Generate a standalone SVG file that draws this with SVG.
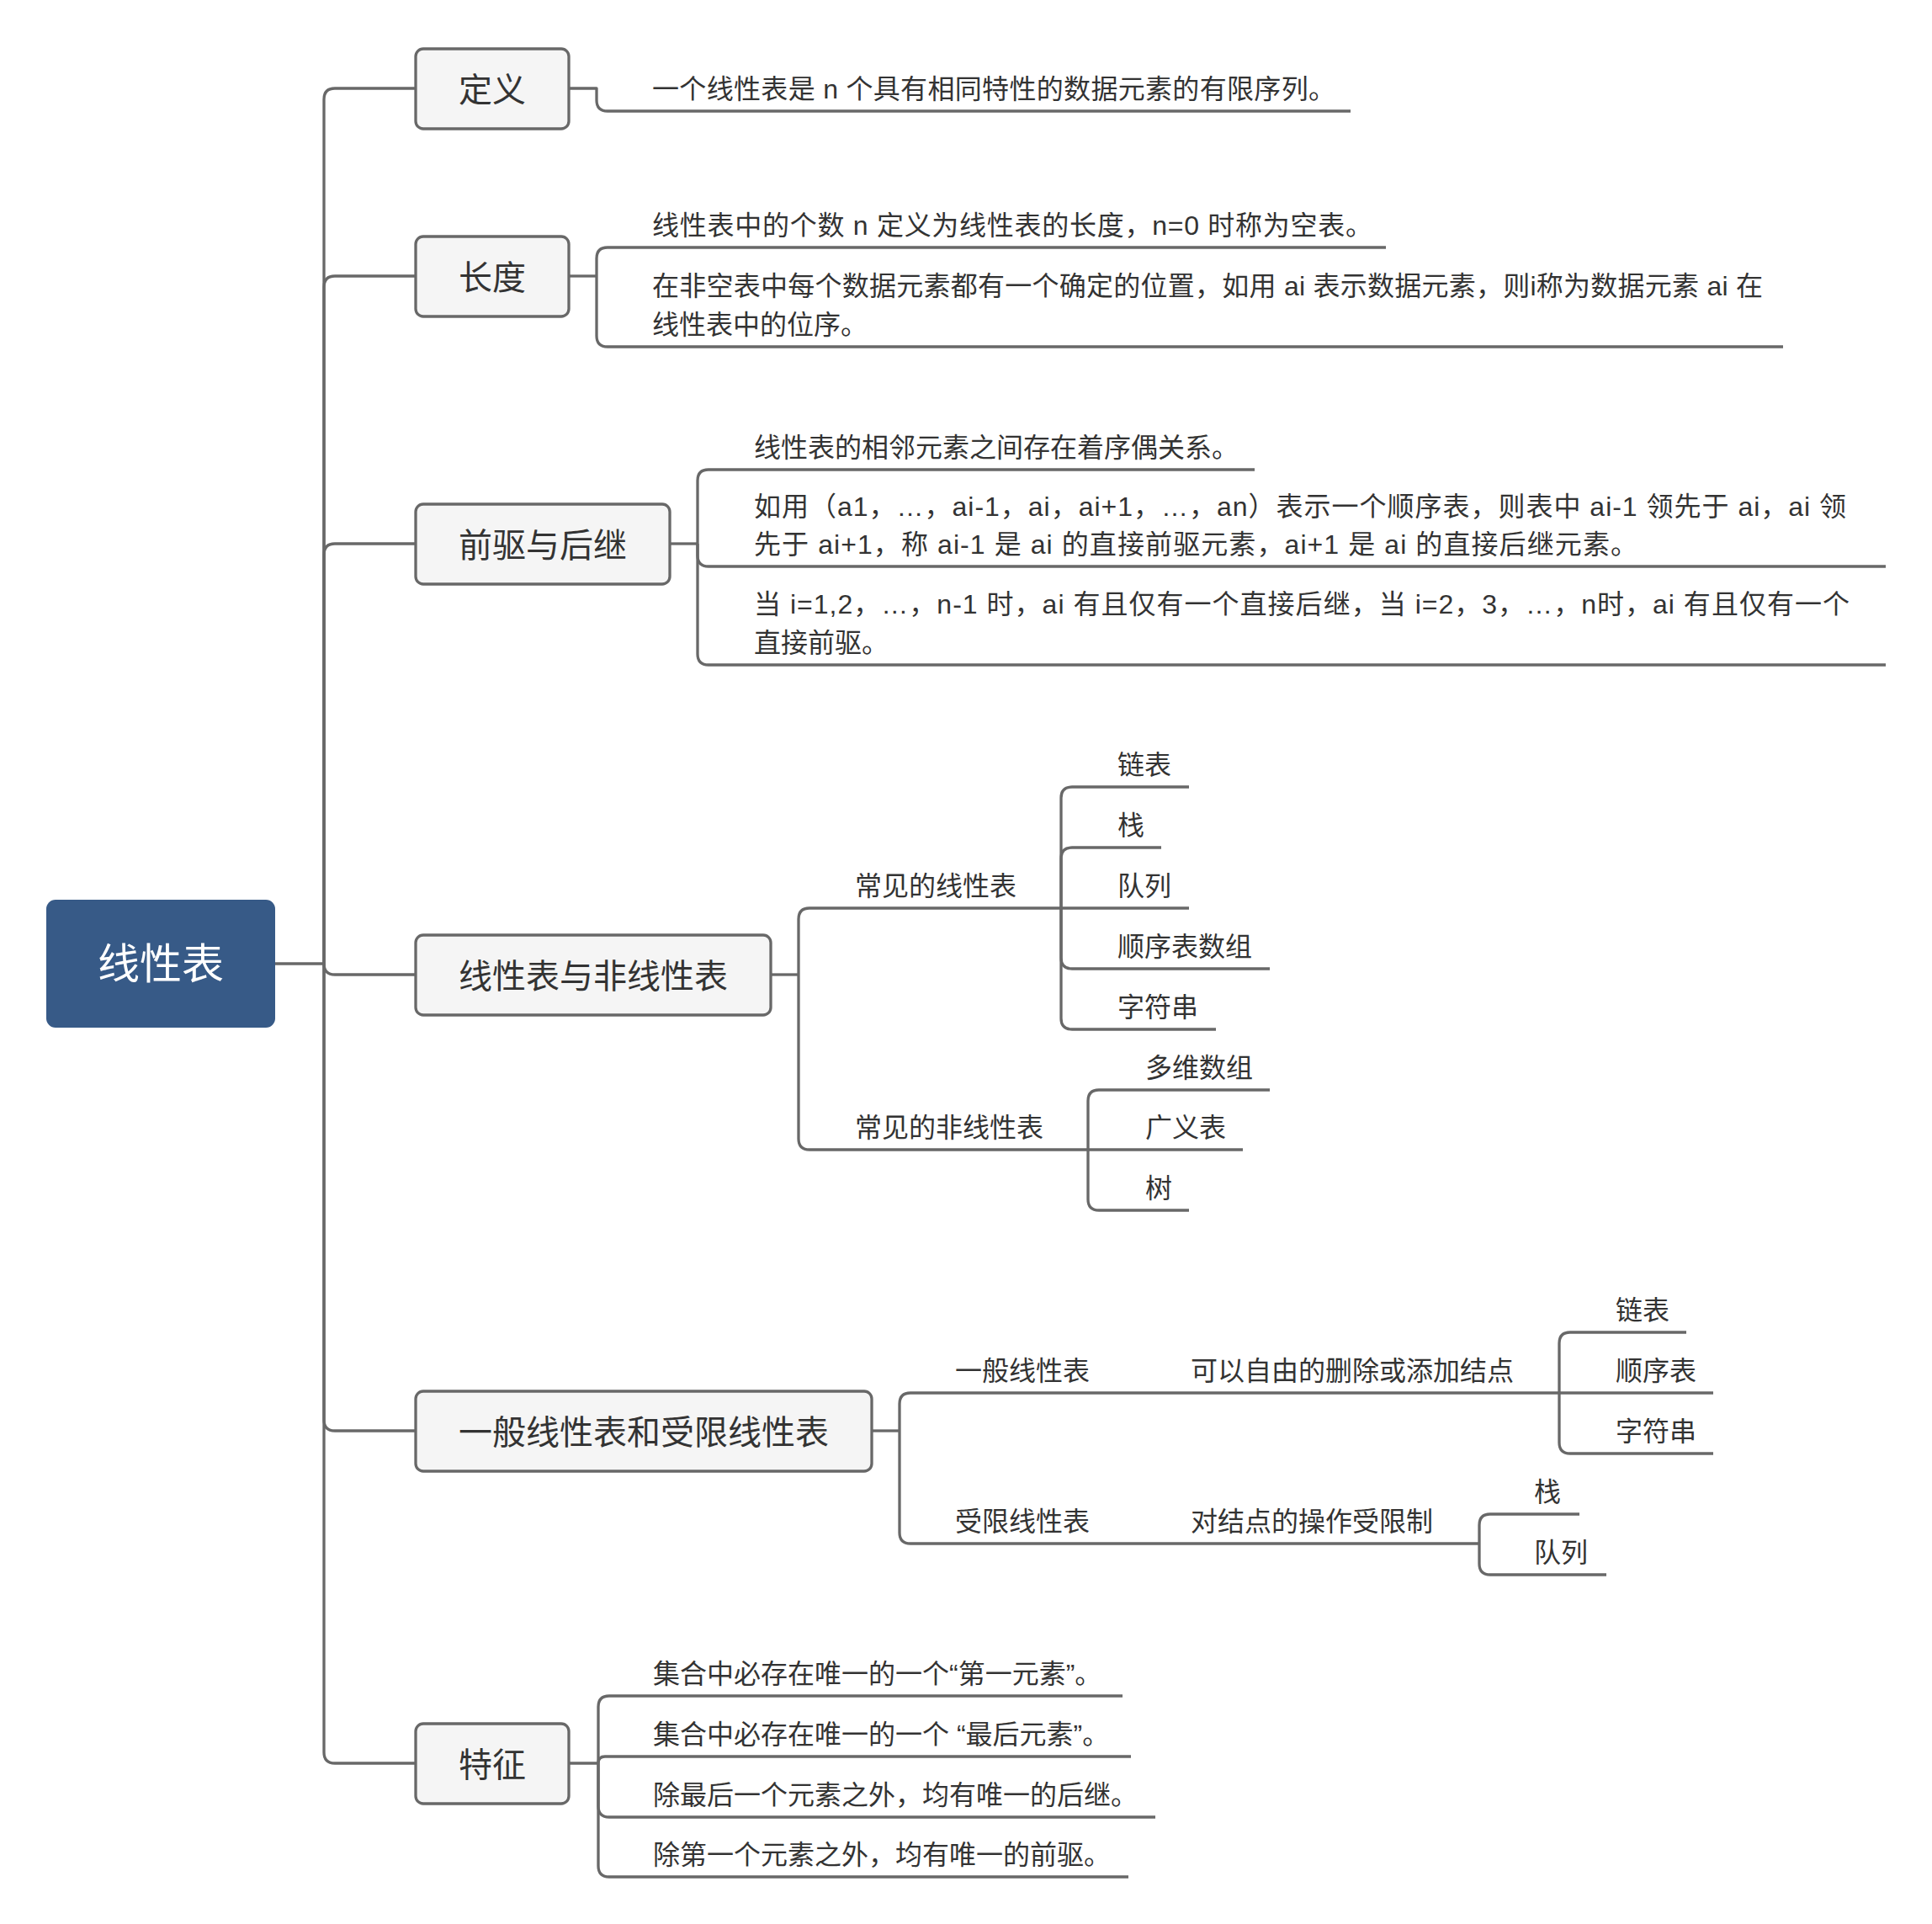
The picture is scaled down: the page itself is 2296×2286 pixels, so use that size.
<svg xmlns="http://www.w3.org/2000/svg" width="2296" height="2286" viewBox="0 0 2296 2286">
<style>
.bg{fill:#ffffff}
.ln{fill:none;stroke:#686868;stroke-width:3.3;stroke-linecap:butt;stroke-linejoin:round}
.box{fill:#f5f5f5;stroke:#686868;stroke-width:3.3}
.root{fill:#375a87}
.t1{font-family:"Noto Sans CJK SC","Noto Sans",sans-serif;font-size:40px;fill:#333333;text-anchor:middle}
.t0{font-family:"Noto Sans CJK SC","Noto Sans",sans-serif;font-size:50px;fill:#ffffff;text-anchor:middle}
.t2{font-family:"Liberation Sans","Noto Sans CJK SC",sans-serif;font-size:32px;fill:#333333}
</style>
<rect class="bg" x="0" y="0" width="2296" height="2286"/>
<g id="connectors">
<path class="ln" d="M327 1145 H385"/>
<path class="ln" d="M385 1145 V118 Q385 105 398 105 H494"/>
<path class="ln" d="M385 1145 V341 Q385 328 398 328 H494"/>
<path class="ln" d="M385 1145 V659 Q385 646 398 646 H494"/>
<path class="ln" d="M385 1145 Q385 1158 398 1158 H494"/>
<path class="ln" d="M385 1145 V1687 Q385 1700 398 1700 H494"/>
<path class="ln" d="M385 1145 V2082 Q385 2095 398 2095 H494"/>
<path class="ln" d="M677 105 H709 V119 Q709 132 722 132 H1605"/>
<path class="ln" d="M677 328 H709"/>
<path class="ln" d="M709 328 V307 Q709 294 722 294 H1647"/>
<path class="ln" d="M709 328 V399 Q709 412 722 412 H2119"/>
<path class="ln" d="M797 646 H829"/>
<path class="ln" d="M829 646 V571 Q829 558 842 558 H1491"/>
<path class="ln" d="M829 646 V660 Q829 673 842 673 H2241"/>
<path class="ln" d="M829 646 V777 Q829 790 842 790 H2241"/>
<path class="ln" d="M917 1158 H949"/>
<path class="ln" d="M949 1158 V1092 Q949 1079 962 1079 H1261"/>
<path class="ln" d="M949 1158 V1353 Q949 1366 962 1366 H1293"/>
<path class="ln" d="M1261 1079 V948 Q1261 935 1274 935 H1413"/>
<path class="ln" d="M1261 1079 V1020 Q1261 1007 1274 1007 H1380"/>
<path class="ln" d="M1261 1079 H1413"/>
<path class="ln" d="M1261 1079 V1138 Q1261 1151 1274 1151 H1509"/>
<path class="ln" d="M1261 1079 V1210 Q1261 1223 1274 1223 H1445"/>
<path class="ln" d="M1293 1366 V1308 Q1293 1295 1306 1295 H1509"/>
<path class="ln" d="M1293 1366 H1477"/>
<path class="ln" d="M1293 1366 V1425 Q1293 1438 1306 1438 H1413"/>
<path class="ln" d="M1037 1700 H1069"/>
<path class="ln" d="M1069 1700 V1668 Q1069 1655 1082 1655 H1853"/>
<path class="ln" d="M1069 1700 V1821 Q1069 1834 1082 1834 H1758"/>
<path class="ln" d="M1853 1655 V1596 Q1853 1583 1866 1583 H2004"/>
<path class="ln" d="M1853 1655 H2036"/>
<path class="ln" d="M1853 1655 V1714 Q1853 1727 1866 1727 H2036"/>
<path class="ln" d="M1758 1834 V1812 Q1758 1799 1771 1799 H1877"/>
<path class="ln" d="M1758 1834 V1858 Q1758 1871 1771 1871 H1909"/>
<path class="ln" d="M677 2095 H711"/>
<path class="ln" d="M711 2095 V2028 Q711 2015 724 2015 H1334"/>
<path class="ln" d="M711 2095 Q711 2087 719 2087 H1344"/>
<path class="ln" d="M711 2095 V2146 Q711 2159 724 2159 H1373"/>
<path class="ln" d="M711 2095 V2217 Q711 2230 724 2230 H1341"/>
</g>
<g id="root">
<rect class="root" x="55" y="1069" width="272" height="152" rx="11"/>
<text class="t0" x="191" y="1163">线性表</text>
</g>
<g id="n-dingyi">
<rect class="box" x="494" y="58" width="182" height="95" rx="9"/>
<text class="t1" x="585" y="121">定义</text>
</g>
<g id="n-dingyi-1"><text class="t2" x="775" y="117" textLength="812" lengthAdjust="spacing">一个线性表是 n 个具有相同特性的数据元素的有限序列。</text></g>
<g id="n-changdu">
<rect class="box" x="494" y="281" width="182" height="95" rx="9"/>
<text class="t1" x="585" y="344">长度</text>
</g>
<g id="n-changdu-1"><text class="t2" x="775" y="279" textLength="856" lengthAdjust="spacing">线性表中的个数 n 定义为线性表的长度，n=0 时称为空表。</text></g>
<g id="n-changdu-2"><text class="t2" x="775" y="351" textLength="1320" lengthAdjust="spacing">在非空表中每个数据元素都有一个确定的位置，如用 ai 表示数据元素，则i称为数据元素 ai 在</text><text class="t2" x="775" y="397">线性表中的位序。</text></g>
<g id="n-qianqu">
<rect class="box" x="494" y="599" width="302" height="95" rx="9"/>
<text class="t1" x="645" y="662">前驱与后继</text>
</g>
<g id="n-qianqu-1"><text class="t2" x="896" y="543">线性表的相邻元素之间存在着序偶关系。</text></g>
<g id="n-qianqu-2"><text class="t2" x="896" y="613" textLength="1298" lengthAdjust="spacing">如用（a1，…，ai-1，ai，ai+1，…，an）表示一个顺序表，则表中 ai-1 领先于 ai，ai 领</text><text class="t2" x="896" y="658" textLength="1050" lengthAdjust="spacing">先于 ai+1，称 ai-1 是 ai 的直接前驱元素，ai+1 是 ai 的直接后继元素。</text></g>
<g id="n-qianqu-3"><text class="t2" x="896" y="729" textLength="1302" lengthAdjust="spacing">当 i=1,2，…，n-1 时，ai 有且仅有一个直接后继，当 i=2，3，…，n时，ai 有且仅有一个</text><text class="t2" x="896" y="775">直接前驱。</text></g>
<g id="n-xianxing">
<rect class="box" x="494" y="1111" width="422" height="95" rx="9"/>
<text class="t1" x="705" y="1174">线性表与非线性表</text>
</g>
<g id="n-cj-linear"><text class="t2" x="1016" y="1064">常见的线性表</text></g>
<g id="n-cj-l1"><text class="t2" x="1328" y="920">链表</text></g>
<g id="n-cj-l2"><text class="t2" x="1328" y="992">栈</text></g>
<g id="n-cj-l3"><text class="t2" x="1328" y="1064">队列</text></g>
<g id="n-cj-l4"><text class="t2" x="1328" y="1136">顺序表数组</text></g>
<g id="n-cj-l5"><text class="t2" x="1328" y="1208">字符串</text></g>
<g id="n-cj-nonlinear"><text class="t2" x="1016" y="1351">常见的非线性表</text></g>
<g id="n-cj-n1"><text class="t2" x="1361" y="1280">多维数组</text></g>
<g id="n-cj-n2"><text class="t2" x="1361" y="1351">广义表</text></g>
<g id="n-cj-n3"><text class="t2" x="1361" y="1423">树</text></g>
<g id="n-yiban">
<rect class="box" x="494" y="1653" width="542" height="95" rx="9"/>
<text class="t1" x="765" y="1716">一般线性表和受限线性表</text>
</g>
<g id="n-yb-general"><text class="t2" x="1135" y="1640">一般线性表</text></g>
<g id="n-yb-general-desc"><text class="t2" x="1415" y="1640">可以自由的删除或添加结点</text></g>
<g id="n-yb-g1"><text class="t2" x="1920" y="1568">链表</text></g>
<g id="n-yb-g2"><text class="t2" x="1920" y="1640">顺序表</text></g>
<g id="n-yb-g3"><text class="t2" x="1920" y="1712">字符串</text></g>
<g id="n-yb-limited"><text class="t2" x="1135" y="1819">受限线性表</text></g>
<g id="n-yb-limited-desc"><text class="t2" x="1415" y="1819">对结点的操作受限制</text></g>
<g id="n-yb-r1"><text class="t2" x="1823" y="1784">栈</text></g>
<g id="n-yb-r2"><text class="t2" x="1823" y="1856">队列</text></g>
<g id="n-tezheng">
<rect class="box" x="494" y="2048" width="182" height="95" rx="9"/>
<text class="t1" x="585" y="2111">特征</text>
</g>
<g id="n-tz-1"><text class="t2" x="776" y="2000">集合中必存在唯一的一个“第一元素”。</text></g>
<g id="n-tz-2"><text class="t2" x="776" y="2072">集合中必存在唯一的一个 “最后元素”。</text></g>
<g id="n-tz-3"><text class="t2" x="776" y="2144">除最后一个元素之外，均有唯一的后继。</text></g>
<g id="n-tz-4"><text class="t2" x="776" y="2215">除第一个元素之外，均有唯一的前驱。</text></g>
</svg>
